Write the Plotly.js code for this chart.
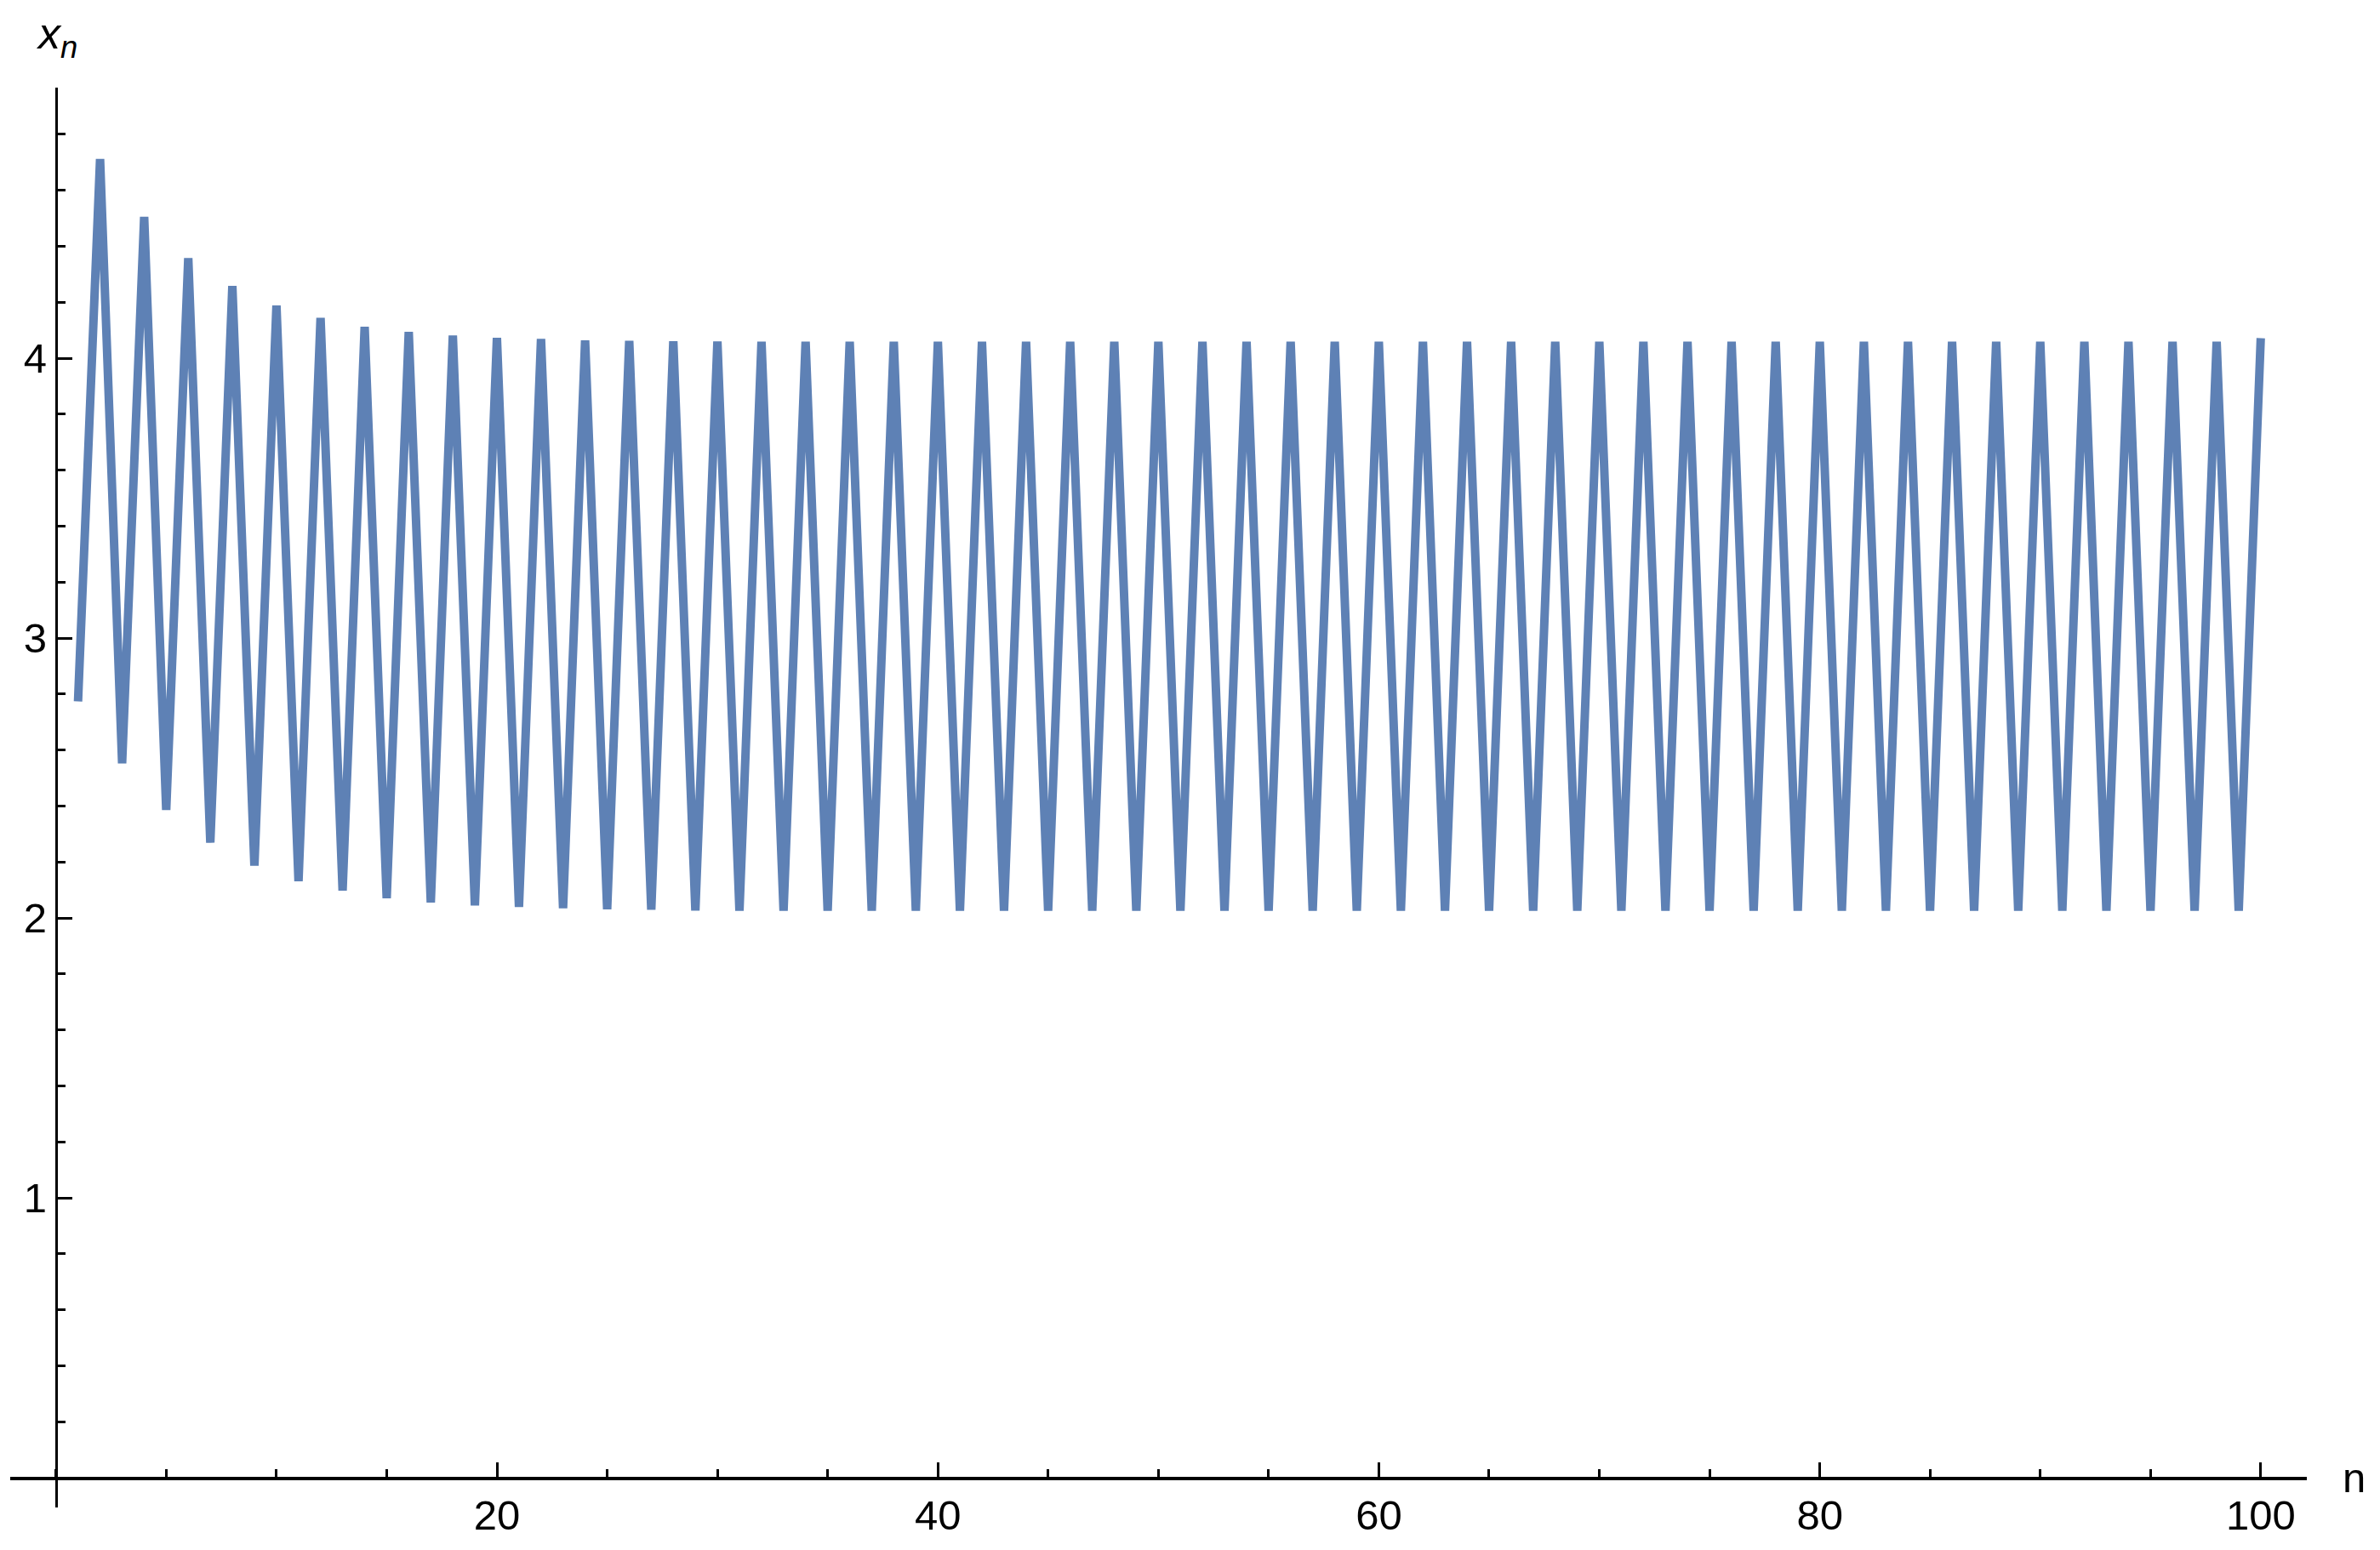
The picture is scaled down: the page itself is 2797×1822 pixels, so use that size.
<!DOCTYPE html>
<html>
<head>
<meta charset="utf-8">
<script src="https://cdn.plot.ly/plotly-3.0.1.min.js"></script>
<style>
  html, body { margin: 0; padding: 0; background: #ffffff; }
  #chart { width: 2797px; height: 1822px; }
</style>
</head>
<body>
<div id="chart"></div>
<script>
// ---- data ----
const nValues = [
  1, 2, 3, 4, 5, 6, 7, 8, 9, 10,
  11, 12, 13, 14, 15, 16, 17, 18, 19, 20,
  21, 22, 23, 24, 25, 26, 27, 28, 29, 30,
  31, 32, 33, 34, 35, 36, 37, 38, 39, 40,
  41, 42, 43, 44, 45, 46, 47, 48, 49, 50,
  51, 52, 53, 54, 55, 56, 57, 58, 59, 60,
  61, 62, 63, 64, 65, 66, 67, 68, 69, 70,
  71, 72, 73, 74, 75, 76, 77, 78, 79, 80,
  81, 82, 83, 84, 85, 86, 87, 88, 89, 90,
  91, 92, 93, 94, 95, 96, 97, 98, 99, 100
];
const xnValues = [
  2.774, 4.712, 2.553, 4.505, 2.386, 4.358, 2.269, 4.258, 2.187, 4.188,
  2.132, 4.144, 2.098, 4.112, 2.071, 4.094, 2.056, 4.081, 2.045, 4.073,
  2.040, 4.069, 2.035, 4.064, 2.031, 4.062, 2.030, 4.061, 2.027, 4.060,
  2.026, 4.059, 2.026, 4.059, 2.026, 4.059, 2.026, 4.059, 2.026, 4.059,
  2.026, 4.059, 2.026, 4.059, 2.026, 4.059, 2.026, 4.059, 2.026, 4.059,
  2.026, 4.059, 2.026, 4.059, 2.026, 4.059, 2.026, 4.059, 2.026, 4.059,
  2.026, 4.059, 2.026, 4.059, 2.026, 4.059, 2.026, 4.059, 2.026, 4.059,
  2.026, 4.059, 2.026, 4.059, 2.026, 4.059, 2.026, 4.059, 2.026, 4.059,
  2.026, 4.059, 2.026, 4.059, 2.026, 4.059, 2.026, 4.059, 2.026, 4.059,
  2.026, 4.059, 2.026, 4.059, 2.026, 4.059, 2.026, 4.059, 2.026, 4.072
];
const xTickVals = [20, 40, 60, 80, 100];
const xTickText = ["20", "40", "60", "80", "100"];
const yTickVals = [1, 2, 3, 4];
const yTickText = ["1", "2", "3", "4"];
const xAxisLabel = "n";
const yAxisLabel = "<i>x</i><sub><i>n</i></sub>";

// ---- layout ----
const xRange = [-2.076, 102.09];
const yRange = [-0.106, 4.967];
const xAxisPos = -yRange[0] / (yRange[1] - yRange[0]); // paper y where y = 0
const yAxisPos = -xRange[0] / (xRange[1] - xRange[0]); // paper x where x = 0

const font = { family: "Liberation Sans, Arial, sans-serif", size: 49, color: "#000000" };

const trace = {
  type: "scatter",
  mode: "lines",
  x: nValues,
  y: xnValues,
  line: { color: "#5E81B5", width: 10 },
  hoverinfo: "skip",
  showlegend: false
};

const layout = {
  width: 2797,
  height: 1822,
  autosize: false,
  paper_bgcolor: "#ffffff",
  plot_bgcolor: "#ffffff",
  margin: { l: 12, r: 86, t: 103, b: 50, pad: 0 },
  font: font,
  showlegend: false,
  xaxis: {
    range: xRange,
    anchor: "free",
    position: xAxisPos,
    automargin: false,
    showgrid: false,
    zeroline: false,
    showline: true,
    linecolor: "#000000",
    linewidth: 3.5,
    ticks: "inside",
    ticklen: 17,
    tickwidth: 3,
    tickcolor: "#000000",
    tickmode: "array",
    tickvals: xTickVals,
    ticktext: xTickText,
    tickfont: font,
    minor: { tickmode: "linear", tick0: 0, dtick: 5, ticks: "inside", ticklen: 9, tickwidth: 3, tickcolor: "#000000", showgrid: false }
  },
  yaxis: {
    range: yRange,
    anchor: "free",
    position: yAxisPos,
    automargin: false,
    showgrid: false,
    zeroline: false,
    showline: true,
    linecolor: "#000000",
    linewidth: 3.5,
    ticks: "inside",
    ticklen: 17,
    tickwidth: 3,
    tickcolor: "#000000",
    tickmode: "array",
    tickvals: yTickVals,
    ticktext: yTickText,
    tickfont: font,
    minor: { tickmode: "linear", tick0: 0, dtick: 0.2, ticks: "inside", ticklen: 9, tickwidth: 3, tickcolor: "#000000", showgrid: false }
  },
  annotations: [
    {
      text: yAxisLabel,
      xref: "paper", yref: "paper",
      x: 0.0105, y: 1.036,
      xanchor: "left", yanchor: "middle",
      showarrow: false,
      font: { family: "Liberation Sans, Arial, sans-serif", size: 52, color: "#000000" }
    },
    {
      text: xAxisLabel,
      xref: "paper", yref: "y",
      x: 1.0207, y: 0,
      xanchor: "center", yanchor: "middle",
      showarrow: false,
      font: font
    }
  ]
};

Plotly.newPlot("chart", [trace], layout, { staticPlot: true, displayModeBar: false }).then(function () {
  document.querySelectorAll(".scatterlayer .js-line").forEach(function (p) {
    p.style.strokeLinejoin = "bevel";
    p.style.strokeLinecap = "butt";
  });
});
</script>
</body>
</html>
